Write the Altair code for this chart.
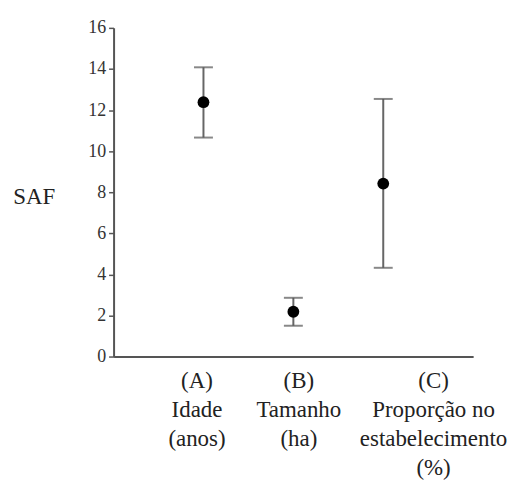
import altair as alt
import pandas as pd

keys = ["A", "B", "C"]
labels = ["(A)|Idade|(anos)", "(B)|Tamanho|(ha)", "(C)|Proporção no|estabelecimento|(%)"]
means = [12.38, 2.18, 8.42]
lower = [10.66, 1.50, 4.32]
upper = [14.08, 2.86, 12.54]

df = pd.DataFrame({"key": keys, "label": labels, "mean": means, "lo": lower, "hi": upper})

FONT = "'Liberation Serif', 'Times New Roman', 'DejaVu Serif', serif"
label_map = "{" + ",".join(f"'{k}': '{l}'" for k, l in zip(keys, labels)) + "}"

xenc = alt.X(
    "key:N",
    scale=alt.Scale(type="point", padding=1, domain=keys),
    axis=alt.Axis(
        title=None,
        ticks=False,
        labelExpr=f"split({label_map}[datum.value], '|')",
        labelFont=FONT,
        labelFontSize=23,
        labelColor="#222",
        labelLineHeight=29,
        labelBaseline="top",
        labelPadding=13,
        labelAngle=0,
        labelOffset={"condition": [{"test": "datum.value == 'A'", "value": -7},
                                   {"test": "datum.value == 'B'", "value": 5}],
                     "value": 50},
        domainColor="#555",
        domainWidth=2,
        labelOverlap=False,
    ),
)

yscale = alt.Scale(domain=[0, 16], nice=False)
yaxis = alt.Axis(
    values=list(range(0, 17, 2)),
    title="SAF",
    titleAngle=0,
    titleFont=FONT,
    titleFontSize=23,
    titleFontWeight="normal",
    titleColor="#222",
    titleAlign="right",
    titleBaseline="middle",
    titleX=-59,
    titleY=169,
    labelFont=FONT,
    labelFontSize=18,
    labelColor="#333",
    labelPadding=3,
    tickSize=5,
    tickColor="#555",
    tickWidth=1.5,
    domainColor="#555",
    domainWidth=2,
    grid=False,
)

base = alt.Chart(df)

rules = base.mark_rule(color="#666", strokeWidth=2).encode(
    x=xenc, y=alt.Y("lo:Q", scale=yscale, axis=yaxis), y2="hi:Q"
)
cap_hi = base.mark_tick(color="#555", size=19, thickness=2).encode(x=xenc, y=alt.Y("hi:Q", scale=yscale))
cap_lo = base.mark_tick(color="#555", size=19, thickness=2).encode(x=xenc, y=alt.Y("lo:Q", scale=yscale))
pts = base.mark_point(filled=True, color="black", size=140, opacity=1).encode(
    x=xenc, y=alt.Y("mean:Q", scale=yscale)
)

chart = (
    alt.layer(rules, cap_hi, cap_lo, pts)
    .properties(width=361, height=330, padding={"left": 4, "top": 10, "right": 0, "bottom": 0})
    .configure(background="white")
    .configure_view(strokeWidth=0, stroke="transparent")
)

chart.save("out.html", embed_options={"renderer": "svg", "actions": False})
